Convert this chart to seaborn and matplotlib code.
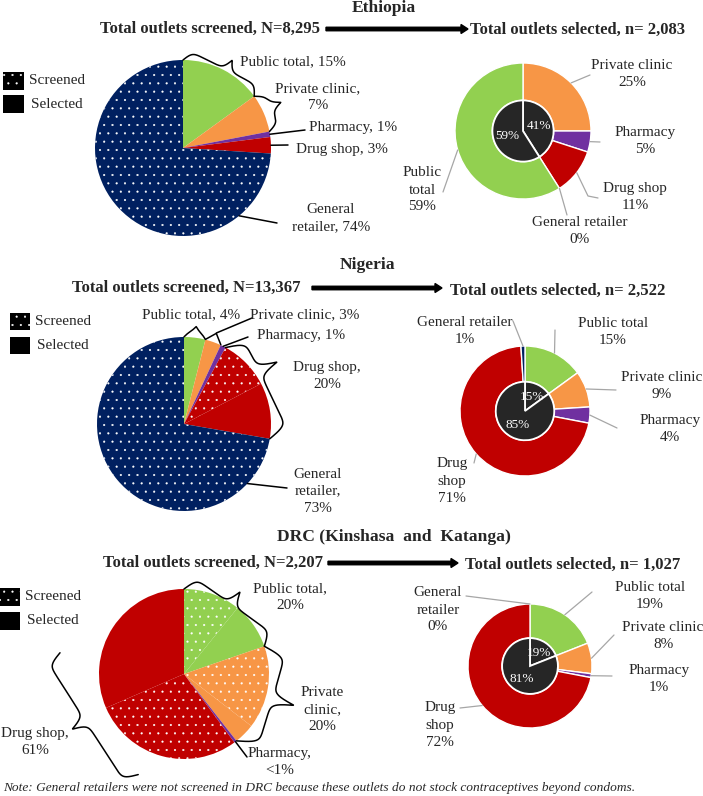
import numpy as np
import matplotlib
matplotlib.use("Agg")
import matplotlib.pyplot as plt
from matplotlib.patches import Rectangle
import seaborn as sns

sns.set_theme(style="white")
plt.rcParams['font.family'] = ['Liberation Serif', 'DejaVu Serif']
plt.rcParams['hatch.linewidth'] = 0.3

################ DATA ##################

categories = ["Public total", "Private clinic", "Pharmacy", "Drug shop", "General retailer"]
colors = ["#92D050", "#F79646", "#7030A0", "#C00000", "#002060"]
inner_color = "#262626"

countries = ["Ethiopia", "Nigeria", "DRC (Kinshasa  and  Katanga)"]
n_screened = ["8,295", "13,367", "2,207"]
n_selected = ["2,083", "2,522", "1,027"]

# screened pie (% of screened N), each category split in
# screened only (dotted) / screened and selected (solid)
eth_only = [0, 0, 0, 0, 74]
eth_sel = [15, 7, 1, 3, 0]
nga_only = [0, 0, 0, 9.5, 73]
nga_sel = [4, 3, 1, 10.5, 0]
drc_only = [11, 16, 0, 29, 0]
drc_sel = [9, 4, 0.5, 32, 0]

# selected donut, outer ring (% of selected n), clockwise from 12 o'clock
eth_ring_cat = [1, 2, 3, 4, 0]
eth_ring = [25, 5, 11, 0, 59]
nga_ring_cat = [0, 1, 2, 3, 4]
nga_ring = [15, 9, 4, 71, 1]
drc_ring_cat = [0, 1, 2, 3, 4]
drc_ring = [19, 8, 1, 72, 0]

# inner pie of the donut
eth_inner = [41, 59]
nga_inner = [15, 85]
drc_inner = [19, 81]

note = ("Note: General retailers were not screened in DRC because these "
        "outlets do not stock contraceptives beyond condoms.")

################ FIGURE ##################

W, H = 703, 796
fig = plt.figure(figsize=(W / 100, H / 100), dpi=100)

ov = fig.add_axes([0, 0, 1, 1])
ov.set_xlim(0, W)
ov.set_ylim(H, 0)
ov.set_axis_off()
ov.set_zorder(10)

PAD = 1.03
LAB = 11
LS = 1.4


def pie_axes(cx, cy, r):
    rr = r * PAD
    ax = fig.add_axes([(cx - rr) / W, 1 - (cy + rr) / H, 2 * rr / W, 2 * rr / H])
    ax.set_axis_off()
    return ax


def on_pie(cx, cy, r, frac, rf=1.0):
    a = 2 * np.pi * frac
    return cx + r * rf * np.sin(a), cy - r * rf * np.cos(a)


def brace(p1, p2, center, depth, tip=0.5, beta=0.4):
    p1, p2 = np.asarray(p1, float), np.asarray(p2, float)
    v = p2 - p1
    L = np.hypot(*v)
    u = v / L
    n = np.array([-u[1], u[0]])
    if np.dot(n, (p1 + p2) / 2 - np.asarray(center)) < 0:
        n = -n
    s = np.linspace(0, L, 400)
    a = tip * L
    b = L - a
    sig = lambda z: 1 / (1 + np.exp(-z))
    d = L - s
    h = np.where(s <= a,
                 sig(beta * s) + sig(beta * (s - a)) - 0.5,
                 sig(beta * d) + sig(beta * (d - b)) - 0.5)
    pts = p1[None, :] + s[:, None] * u[None, :] + depth * h[:, None] * n[None, :]
    ov.plot(pts[:, 0], pts[:, 1], color="black", lw=1.1, solid_capstyle="round")
    return p1 + a * u + depth * n


def header(country, tx, ty, sx, sy, ax1, ax2, ay, rx, ry, nN, nn):
    ov.text(tx, ty, country, ha="center", va="center", fontsize=12.6, fontweight="bold")
    ov.text(sx, sy, f"Total outlets screened, N={nN}", ha="left", va="center",
            fontsize=12, fontweight="bold")
    ov.arrow(ax1, ay, ax2 - ax1, 0, width=3.5, head_width=9, head_length=7,
             length_includes_head=True, color="black")
    ov.text(rx, ry, f"Total outlets selected, n= {nn}", ha="left", va="center",
            fontsize=12, fontweight="bold")


def legend(x, y1, y2, w, h):
    ov.add_patch(Rectangle((x, y1), w, h, facecolor="black", edgecolor="white",
                           hatch="..", lw=0))
    ov.add_patch(Rectangle((x, y2), w, h, facecolor="black", lw=0))
    ov.text(x + w + 5, y1 + h / 2, "Screened", va="center", fontsize=LAB)
    ov.text(x + w + 7, y2 + h / 2, "Selected", va="center", fontsize=LAB)


def screened_pie(cx, cy, r, only, sel, notes):
    vals, cols, hatches = [], [], []
    for k in range(5):
        for v, hh in ((only[k], ".."), (sel[k], None)):
            if v > 0:
                vals.append(v)
                cols.append(colors[k])
                hatches.append(hh)
    ax = pie_axes(cx, cy, r)
    wedges, _ = ax.pie(vals, colors=cols, startangle=90, counterclock=False,
                       wedgeprops=dict(linewidth=0, edgecolor="white"))
    for w, hh in zip(wedges, hatches):
        if hh:
            w.set_hatch(hh)
    ax.set_xlim(-PAD, PAD)
    ax.set_ylim(-PAD, PAD)

    tot = np.add(only, sel)
    cum = np.concatenate([[0], np.cumsum(tot)]) / tot.sum()
    for nt in notes:
        k = nt["cat"]
        pct = tot[k]
        pct_txt = "<1" if pct < 1 else f"{pct:g}"
        lx, ly = nt["xy"]
        ov.text(lx, ly, nt["text"].format(pct_txt), ha="center", va="center",
                fontsize=LAB, linespacing=LS)
        if nt["kind"] == "brace":
            if "ends" in nt:
                (f1, r1), (f2, r2) = nt["ends"]
                p1 = on_pie(cx, cy, r, f1, r1)
                p2 = on_pie(cx, cy, r, f2, r2)
            else:
                p1 = on_pie(cx, cy, r, cum[k])
                p2 = on_pie(cx, cy, r, cum[k + 1])
            t = brace(p1, p2, (cx, cy), nt["depth"], nt.get("tip", 0.5))
            if "line" in nt:
                ex, ey = nt["line"]
                ov.plot([t[0], ex], [t[1], ey], color="black", lw=1.1)
        else:
            f = nt.get("at", (cum[k] + cum[k + 1]) / 2)
            x0, y0 = on_pie(cx, cy, r, f)
            ex, ey = nt["line"]
            ov.plot([x0, ex], [y0, ey], color="black", lw=1.1)


def selected_donut(cx, cy, r, ring_cat, ring, inner, notes):
    ax = pie_axes(cx, cy, r)
    keep = [i for i, v in enumerate(ring) if v > 0]
    ax.pie([ring[i] for i in keep], colors=[colors[ring_cat[i]] for i in keep],
           startangle=90, counterclock=False, radius=1,
           wedgeprops=dict(width=0.55, edgecolor="white", linewidth=1))
    ax.pie(inner, colors=[inner_color] * len(inner), startangle=90, counterclock=False,
           radius=0.45, autopct=lambda p: f"{p:.0f}%", pctdistance=0.55,
           wedgeprops=dict(edgecolor="white", linewidth=1.3),
           textprops=dict(color="white", fontsize=9.5))
    ax.set_xlim(-PAD, PAD)
    ax.set_ylim(-PAD, PAD)

    cum = np.concatenate([[0], np.cumsum(ring)]) / np.sum(ring)
    for i, (txt, (lx, ly), pts) in enumerate(notes):
        mid = (cum[i] + cum[i + 1]) / 2
        x0, y0 = on_pie(cx, cy, r, mid)
        xs = [x0] + [p[0] for p in pts]
        ys = [y0] + [p[1] for p in pts]
        ov.plot(xs, ys, color="#A6A6A6", lw=0.9)
        ov.text(lx, ly, txt.format(ring[i]), ha="center", va="center",
                fontsize=LAB, linespacing=LS)


#################### ETHIOPIA ######################

header(countries[0], 384, 8, 100, 29, 326, 468, 29, 470, 30, n_screened[0], n_selected[0])
legend(3, 72, 95, 21, 18)
screened_pie(183, 148, 88, eth_only, eth_sel, [
    dict(kind="brace", cat=0, text="Public total, {}%", xy=(293, 62), depth=22, tip=0.55),
    dict(kind="brace", cat=1, text="Private clinic,\n{}%", xy=(318, 97), depth=22, tip=0.42),
    dict(kind="line", cat=2, text="Pharmacy, {}%", xy=(353, 128), line=(305, 130)),
    dict(kind="line", cat=3, text="Drug shop, {}%", xy=(342, 150), line=(288, 145)),
    dict(kind="line", cat=4, text="General\nretailer, {}%", xy=(331, 218), at=0.39,
         line=(277, 223)),
])
selected_donut(523, 131, 68, eth_ring_cat, eth_ring, eth_inner, [
    ("Private clinic\n{}%", (632, 74), [(590, 75)]),
    ("Pharmacy\n{}%", (645, 141), [(600, 142)]),
    ("Drug shop\n{}%", (635, 197), [(588, 196), (598, 198)]),
    ("General retailer\n{}%", (580, 231), [(567, 215)]),
    ("Public\ntotal\n{}%", (422, 190), [(443, 192)]),
])

#################### NIGERIA ######################

header(countries[1], 368, 265, 72, 288, 312, 442, 288, 450, 291, n_screened[1], n_selected[1])
legend(10, 313, 337, 20, 17)
screened_pie(184, 424, 87, nga_only, nga_sel, [
    dict(kind="brace", cat=0, text="Public total, {}%", xy=(191, 315), depth=12, tip=0.5),
    dict(kind="brace", cat=1, text="Private clinic, {}%", xy=(305, 315), depth=10, tip=0.5,
         line=(252, 318)),
    dict(kind="line", cat=2, text="Pharmacy, {}%", xy=(301, 335), line=(248, 337)),
    dict(kind="brace", cat=3, text="Drug shop,\n{}%", xy=(327, 376), depth=40, tip=0.35),
    dict(kind="line", cat=4, text="General\nretailer,\n{}%", xy=(318, 491), at=0.37,
         line=(287, 488)),
])
selected_donut(525, 411, 65, nga_ring_cat, nga_ring, nga_inner, [
    ("Public total\n{}%", (613, 332), [(555, 330)]),
    ("Private clinic\n{}%", (662, 386), [(616, 390)]),
    ("Pharmacy\n{}%", (670, 429), [(617, 428)]),
    ("Drug\nshop\n{}%", (452, 481), [(474, 463)]),
    ("General retailer\n{}%", (465, 331), [(513, 321)]),
])

#################### DRC ######################

header(countries[2], 394, 537, 103, 563, 328, 458, 563, 465, 565, n_screened[2], n_selected[2])
legend(0, 588, 612, 20, 18)
screened_pie(184, 674, 85, drc_only, drc_sel, [
    dict(kind="brace", cat=0, text="Public total,\n{}%", xy=(290, 597), depth=30, tip=0.48),
    dict(kind="brace", cat=1, text="Private\nclinic,\n{}%", xy=(322, 710), depth=45, tip=0.49),
    dict(kind="line", cat=2, text="Pharmacy,\n{}%", xy=(280, 762), line=(247, 757)),
    dict(kind="brace", cat=3, text="Drug shop,\n{}%", xy=(35, 742), depth=31, tip=0.49,
         ends=((0.777, 1.48), (0.568, 1.30))),
])
selected_donut(530, 666, 62, drc_ring_cat, drc_ring, drc_inner, [
    ("Public total\n{}%", (650, 596), [(592, 592)]),
    ("Private clinic\n{}%", (663, 636), [(614, 635)]),
    ("Pharmacy\n{}%", (659, 679), [(612, 676)]),
    ("Drug\nshop\n{}%", (440, 725), [(460, 708)]),
    ("General\nretailer\n{}%", (438, 610), [(466, 596)]),
])

ov.text(3, 788, note, ha="left", va="center", fontsize=9.6, fontstyle="italic")

fig.savefig("out.png", dpi=100)
